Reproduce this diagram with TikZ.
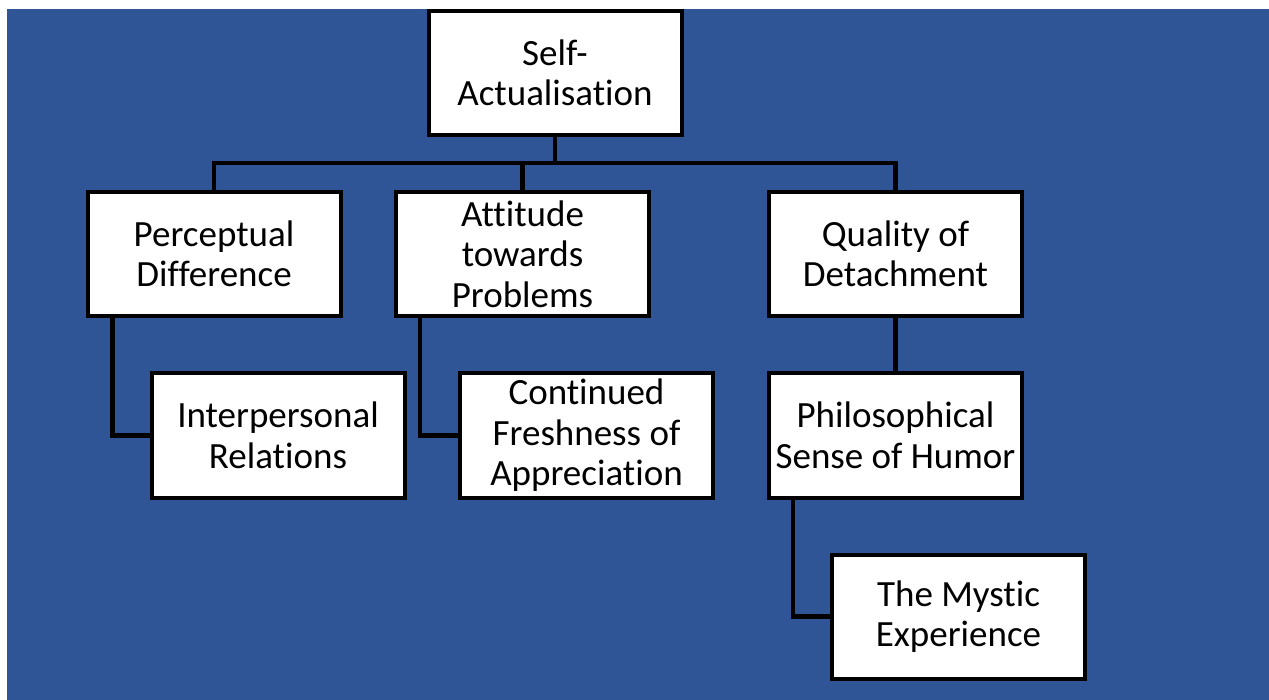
\documentclass[tikz,border=0pt]{standalone}
\usepackage{fontspec}
\setmainfont{Carlito}[RawFeature={-liga;-clig;-calt;-dlig}]
\definecolor{slideblue}{HTML}{2F5597}
\begin{document}
\begin{tikzpicture}[x=1pt,y=-1pt,
  box/.style={draw=black, line width=4pt, fill=white, minimum width=253pt,
    minimum height=124pt, inner sep=0pt, align=center,
    font=\fontsize{37}{40.5}\selectfont},
  link/.style={draw=black, line width=4.5pt}]
  % page and slide background
  \fill[white] (0,0) rectangle (1269,700);
  \fill[slideblue] (7,9) rectangle (1269,700);
  \useasboundingbox (0,0) rectangle (1269,700);

  % boxes
  \node[box] (top) at (555,73) {Self-\\Actualisation};
  \node[box] (perc) at (214,254) {Perceptual\\Difference};
  \node[box] (att) at (522.5,254) {Attitude\\towards\\Problems};
  \node[box] (qual) at (895.5,254) {Quality of\\Detachment};
  \node[box] (inter) at (278,435.5) {Interpersonal\\Relations};
  \node[box] (fresh) at (586.5,435.5) {Continued\\Freshness of\\Appreciation};
  \node[box] (phil) at (895.5,435.5) {Philosophical\\Sense of Humor};
  \node[box] (myst) at (958.5,616.5) {The Mystic\\Experience};

  % connectors
  \coordinate (bus) at (555,163);
  \draw[link] (top.south) -- (bus);
  \draw[link] (perc.north) |- (bus) -| (qual.north);
  \draw[link] (att.north) -- (att.north |- bus);
  \draw[link] ([xshift=27pt]perc.south west) |- (inter.west);
  \draw[link] ([xshift=26pt]att.south west) |- (fresh.west);
  \draw[link] (qual.south) -- (phil.north);
  \draw[link] ([xshift=26pt]phil.south west) |- (myst.west);
\end{tikzpicture}
\end{document}
